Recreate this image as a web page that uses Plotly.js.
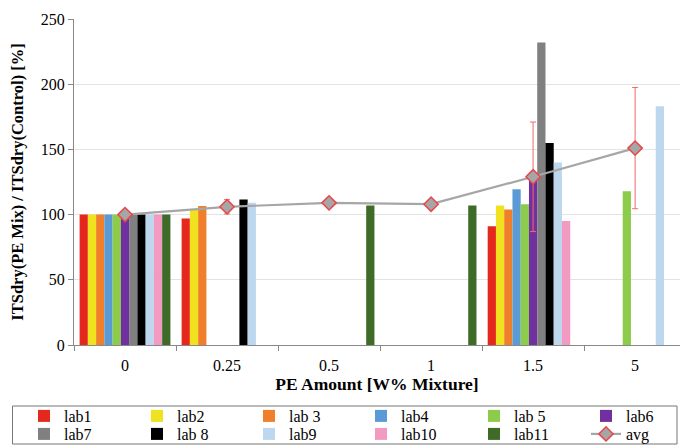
<!DOCTYPE html>
<html>
<head>
<meta charset="utf-8">
<script src="https://cdn.plot.ly/plotly-3.0.1.min.js"></script>
<style>html,body{margin:0;padding:0;background:#fff;}#chart{width:680px;height:446px;}</style>
</head>
<body>
<div id="chart"></div>
<script>
const categories = ['0', '0.25', '0.5', '1', '1.5', '5'];
const labNames = ['lab1', 'lab2', 'lab 3', 'lab4', 'lab 5', 'lab6', 'lab7', 'lab 8', 'lab9', 'lab10', 'lab11'];
const lab1  = [100, 97,    null, null, 91,    null];
const lab2  = [100, 103.5, null, null, 107,   null];
const lab3  = [100, 106.5, null, null, 104,   null];
const lab4  = [100, null,  null, null, 119.5, null];
const lab5  = [100, null,  null, null, 108,   118];
const lab6  = [100, null,  null, null, 129,   null];
const lab7  = [100, null,  null, null, 232,   null];
const lab8  = [100, 111.5, null, null, 155,   null];
const lab9  = [100, 109,   null, null, 140,   183];
const lab10 = [100, null,  null, null, 95,    null];
const lab11 = [100, null,  107,  107,  null,  null];
const avg    = [100, 106, 109, 108, 129, 151];
const avgErr = [0, 5.5, 0, 0, 42, 46.5];

const labValues = [lab1, lab2, lab3, lab4, lab5, lab6, lab7, lab8, lab9, lab10, lab11];
const labColors = ['#E5281E', '#F0E21E', '#F07F2A', '#5B9BD5', '#8DCB4B', '#7030A0',
                   '#808080', '#000000', '#BDD7EE', '#F39AC2', '#3E6B28'];

const serif = 'Liberation Serif, Times New Roman, serif';
const W = 680, H = 446;

function legendId(i) { return i === 0 ? 'legend' : 'legend' + (i + 1); }

const traces = labValues.map((vals, i) => ({
  type: 'bar',
  name: labNames[i],
  x: categories,
  y: vals,
  marker: {color: labColors[i]},
  legend: legendId(i)
}));

traces.push({
  type: 'scatter',
  mode: 'lines+markers',
  name: 'avg',
  x: categories,
  y: avg,
  legend: legendId(11),
  line: {color: '#A6A6A6', width: 2.2},
  marker: {symbol: 'diamond', size: 11, color: '#A6A6A6', line: {color: '#E8474A', width: 1.5}},
  error_y: {type: 'data', array: avgErr, visible: true, color: '#EE6B6B', thickness: 1, width: 3}
});

const layout = {
  width: W,
  height: H,
  margin: {l: 74, r: 0, t: 19, b: 101},
  paper_bgcolor: '#ffffff',
  plot_bgcolor: '#ffffff',
  barmode: 'group',
  bargap: 0.11,
  bargroupgap: 0,
  font: {family: serif, size: 16, color: '#000'},
  xaxis: {
    type: 'category',
    range: [-0.5, 5.44],
    tickson: 'boundaries',
    ticks: 'outside',
    ticklen: 5,
    tickcolor: '#888',
    ticklabelstandoff: 6,
    showline: true,
    linecolor: '#888',
    linewidth: 1,
    showgrid: false,
    tickfont: {family: serif, size: 16, color: '#000'},
    title: {text: '<b>PE Amount [W% Mixture]</b>', font: {family: serif, size: 17.5, color: '#000'}, standoff: 2}
  },
  yaxis: {
    range: [0, 250],
    dtick: 50,
    ticks: 'outside',
    ticklen: 5,
    tickcolor: '#888',
    showline: true,
    linecolor: '#888',
    linewidth: 1,
    showgrid: true,
    gridcolor: '#E3E3E3',
    zeroline: false,
    tickfont: {family: serif, size: 16, color: '#000'},
    title: {text: '<b>ITSdry(PE Mix) / ITSdry(Control) [%]</b>', font: {family: serif, size: 16.5, color: '#000'}, standoff: 13}
  },
  showlegend: true,
  shapes: [{
    type: 'rect', xref: 'paper', yref: 'paper',
    x0: (12.5 - 74) / 606, x1: (677 - 74) / 606,
    y0: (345 - 406) / 326, y1: (345 - 444) / 326,
    line: {color: '#777', width: 1}, fillcolor: 'rgba(0,0,0,0)', layer: 'above'
  }]
};

// legend grid: 6 columns x 2 rows, one single-entry legend per cell
const colTextX = [65, 178, 290, 402, 515, 627];
const rowCenterY = [416, 434];
for (let i = 0; i < 12; i++) {
  const col = i % 6, row = Math.floor(i / 6);
  layout[legendId(i)] = {
    orientation: 'h',
    xref: 'container', yref: 'container',
    x: (colTextX[col] - 41) / W, xanchor: 'left',
    y: 1 - rowCenterY[row] / H, yanchor: 'middle',
    font: {family: serif, size: 16, color: '#000'},
    bgcolor: 'rgba(0,0,0,0)',
    borderwidth: 0
  };
}

Plotly.newPlot('chart', traces, layout, {displayModeBar: false, staticPlot: true});
</script>
</body>
</html>
